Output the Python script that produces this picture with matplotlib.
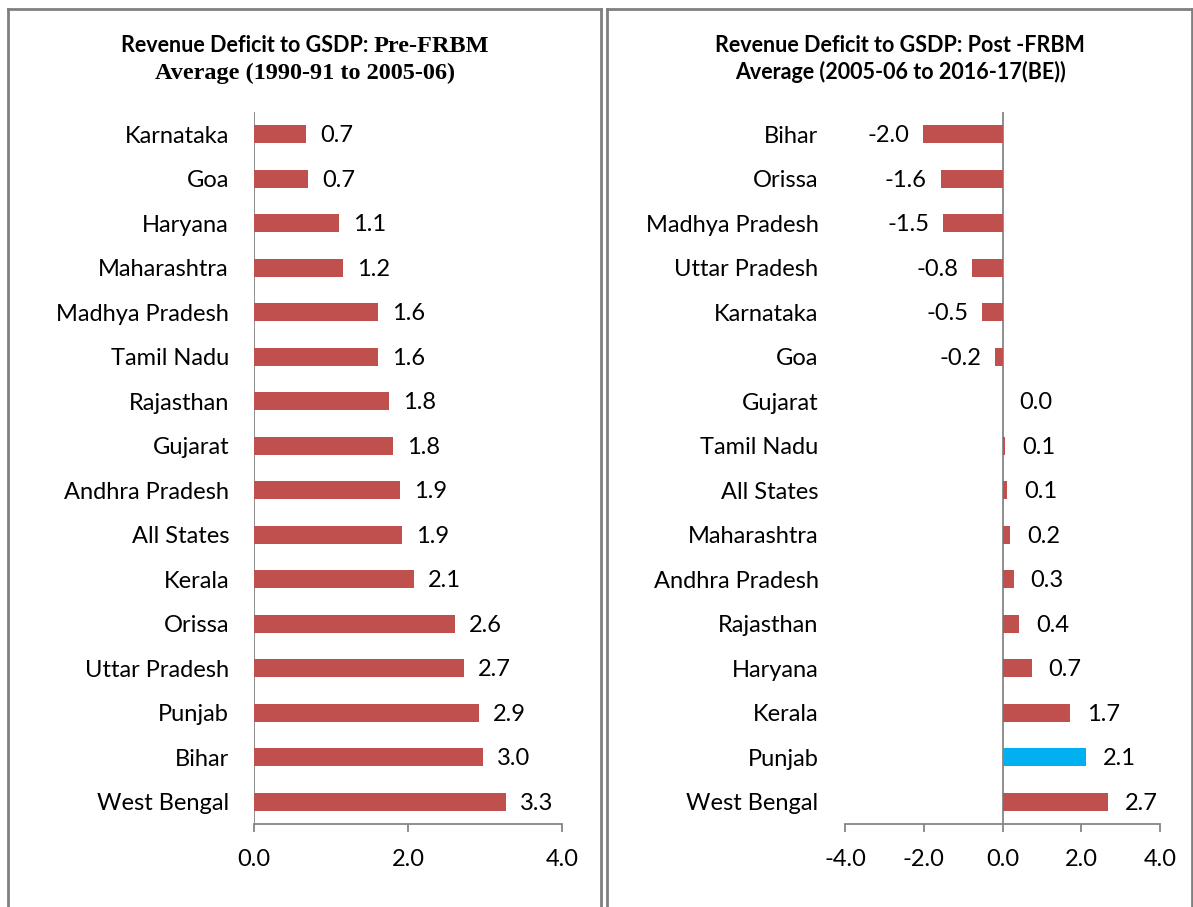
import matplotlib
matplotlib.use("Agg")
import matplotlib.pyplot as plt
from matplotlib.lines import Line2D

# ---------------- data ----------------
pre_states = ["Karnataka", "Goa", "Haryana", "Maharashtra", "Madhya Pradesh",
              "Tamil Nadu", "Rajasthan", "Gujarat", "Andhra Pradesh", "All States",
              "Kerala", "Orissa", "Uttar Pradesh", "Punjab", "Bihar", "West Bengal"]
pre_values = [0.68, 0.70, 1.10, 1.16, 1.61, 1.61, 1.75, 1.81, 1.90, 1.92,
              2.08, 2.61, 2.73, 2.92, 2.97, 3.27]

post_states = ["Bihar", "Orissa", "Madhya Pradesh", "Uttar Pradesh", "Karnataka",
               "Goa", "Gujarat", "Tamil Nadu", "All States", "Maharashtra",
               "Andhra Pradesh", "Rajasthan", "Haryana", "Kerala", "Punjab", "West Bengal"]
post_values = [-2.01, -1.57, -1.50, -0.78, -0.51, -0.18, 0.0, 0.07, 0.12, 0.20,
               0.28, 0.43, 0.74, 1.72, 2.13, 2.69]
highlight = "Punjab"

pre_ticks = [0.0, 2.0, 4.0]
post_ticks = [-4.0, -2.0, 0.0, 2.0, 4.0]

pre_title_a = "Revenue Deficit to GSDP: "
pre_title_b = "Pre-FRBM"
pre_title_c = "Average (1990-91 to 2005-06)"
post_title = "Revenue Deficit to GSDP: Post -FRBM\nAverage (2005-06 to 2016-17(BE))"

# ---------------- style ----------------
W, H = 1193, 907
fig = plt.figure(figsize=(W / 100, H / 100), dpi=100)
SANS = ["Lato", "DejaVu Sans"]
SERIF = ["Liberation Serif", "DejaVu Serif"]
RED = "#C0504D"
BLUE = "#00B0F0"
GRAY = "#868686"
FS = 17


def fx(px):
    return px / W


def fy(py):
    return 1 - py / H


# panel borders
border_kw = dict(color="#808080", lw=2.0, transform=fig.transFigure)
for x0, x1 in [(8, 601), (607, 1192)]:
    fig.add_artist(Line2D([fx(x0), fx(x0)], [fy(9), 0], **border_kw))
    fig.add_artist(Line2D([fx(x1), fx(x1)], [fy(9), 0], **border_kw))
    fig.add_artist(Line2D([fx(x0), fx(x1)], [fy(9), fy(9)], **border_kw))


def style_axes(ax, states, ticks, xlim):
    n = len(states)
    ax.set_ylim(n - 0.5, -0.5)
    ax.set_xlim(*xlim)
    ax.set_xticks(ticks)
    ax.set_xticklabels([f"{t:.1f}" for t in ticks], fontsize=FS, family=SANS)
    for s in ["top", "right", "left"]:
        ax.spines[s].set_visible(False)
    ax.spines["bottom"].set_color(GRAY)
    ax.spines["bottom"].set_linewidth(1.3)
    ax.tick_params(axis="x", direction="out", length=6, width=1.3, color=GRAY, pad=12)
    ax.set_yticks(range(n))
    ax.set_yticklabels(states, fontsize=FS, family=SANS)
    ax.axvline(0, color=GRAY, lw=1.3, zorder=1)


# left panel
ax1 = fig.add_axes([fx(254), fy(824), fx(562) - fx(254), fy(112) - fy(824)])
style_axes(ax1, pre_states, pre_ticks, (0, 4))
ax1.tick_params(axis="y", length=0, pad=18)
ax1.barh(range(len(pre_states)), pre_values, height=0.4, color=RED, zorder=2)
for i, v in enumerate(pre_values):
    ax1.annotate(f"{v:.1f}", (v, i), xytext=(10, -1), textcoords="offset points",
                 va="center", ha="left", fontsize=FS, family=SANS)

# left title (mixed fonts), line 1 centred as a whole
t1 = fig.text(0, fy(46), pre_title_a, fontsize=15.5, family=SANS,
              fontweight="bold", va="center", ha="left")
t2 = fig.text(0, fy(46), pre_title_b, fontsize=17.5, family=SERIF,
              fontweight="bold", va="center", ha="left")
fig.canvas.draw()
r = fig.canvas.get_renderer()
w1 = t1.get_window_extent(r).width
w2 = t2.get_window_extent(r).width
start = 305 - (w1 + w2) / 2
t1.set_x(fx(start))
t2.set_x(fx(start + w1))
fig.text(fx(305), fy(73), pre_title_c, fontsize=17.5, family=SERIF,
         fontweight="bold", va="center", ha="center")

# right panel
ax2 = fig.add_axes([fx(845), fy(824), fx(1160) - fx(845), fy(112) - fy(824)])
style_axes(ax2, post_states, post_ticks, (-4, 4))
ax2.tick_params(axis="y", length=0, pad=19)
colors = [BLUE if s == highlight else RED for s in post_states]
ax2.barh(range(len(post_states)), post_values, height=0.4, color=colors, zorder=2)
for i, v in enumerate(post_values):
    if v < 0:
        ax2.annotate(f"{v:.1f}", (v, i), xytext=(-10, -1), textcoords="offset points",
                     va="center", ha="right", fontsize=FS, family=SANS)
    else:
        ax2.annotate(f"{v:.1f}", (v, i), xytext=(12, -1), textcoords="offset points",
                     va="center", ha="left", fontsize=FS, family=SANS)

fig.text(fx(900), fy(59), post_title, fontsize=15.5, family=SANS, fontweight="bold",
         va="center", ha="center", linespacing=1.3)

fig.savefig("out.png", dpi=100)
